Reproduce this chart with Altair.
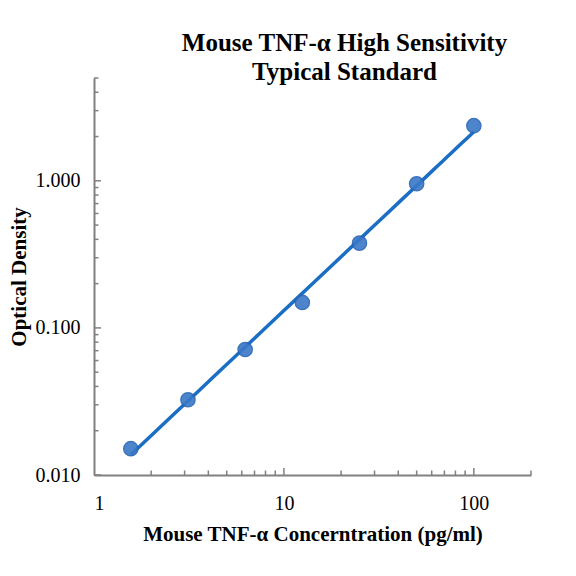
import altair as alt
import pandas as pd

# Standard curve readings (pg/ml vs OD)
conc = [1.5625, 3.125, 6.25, 12.5, 25, 50, 100]
od = [0.0151, 0.0325, 0.0713, 0.149, 0.377, 0.955, 2.37]

# tick positions for the log axes
x_major = [10, 100]
x_minor = [2, 3, 4, 5, 6, 7, 8, 9, 20, 30, 40, 50, 60, 70, 80, 90, 200]
y_major = [0.01, 0.1, 1]
y_minor = [0.02, 0.03, 0.04, 0.05, 0.06, 0.07, 0.08, 0.09,
           0.2, 0.3, 0.4, 0.5, 0.6, 0.7, 0.8, 0.9, 2, 3, 4, 5]

W, H = 437, 397
FONT = 'Liberation Serif'
GREY = '#808080'

df = pd.DataFrame({'conc': conc, 'od': od})

xscale = alt.Scale(type='log', domain=[1, 200], nice=False)
yscale = alt.Scale(type='log', domain=[0.01, 5], nice=False)

base = alt.Chart(df)

line = base.mark_line(color='#1a6ec4', strokeWidth=3.5).transform_regression(
    'conc', 'od', method='pow'
).encode(
    x=alt.X('conc:Q', scale=xscale,
            axis=alt.Axis(title='Mouse TNF-α Concerntration (pg/ml)',
                          values=[1, 10, 100], format='d', ticks=False,
                          grid=False, labelPadding=18, titlePadding=10)),
    y=alt.Y('od:Q', scale=yscale,
            axis=alt.Axis(title='Optical Density', values=y_major,
                          format='.3f', ticks=False, grid=False,
                          labelPadding=14, titlePadding=6)),
)

points = base.mark_point(
    filled=True, size=200, color='#3a78c8', opacity=0.9,
    stroke='#2a66b4', strokeWidth=1.5
).encode(x=alt.X('conc:Q', scale=xscale), y=alt.Y('od:Q', scale=yscale))

# inside tick marks
xt_major = alt.Chart(pd.DataFrame({'v': x_major})).mark_rule(
    color=GREY, strokeWidth=1.5
).encode(x=alt.X('v:Q', scale=xscale), y=alt.value(H), y2=alt.value(H - 7))
xt_minor = alt.Chart(pd.DataFrame({'v': x_minor})).mark_rule(
    color=GREY, strokeWidth=1.5
).encode(x=alt.X('v:Q', scale=xscale), y=alt.value(H), y2=alt.value(H - 4.5))
yt_major = alt.Chart(pd.DataFrame({'v': y_major})).mark_rule(
    color=GREY, strokeWidth=1.5
).encode(y=alt.Y('v:Q', scale=yscale), x=alt.value(0), x2=alt.value(7))
yt_minor = alt.Chart(pd.DataFrame({'v': y_minor})).mark_rule(
    color=GREY, strokeWidth=1.5
).encode(y=alt.Y('v:Q', scale=yscale), x=alt.value(0), x2=alt.value(4.5))

chart = alt.layer(
    xt_major, xt_minor, yt_major, yt_minor, line, points
).properties(
    width=W,
    height=H,
    autosize=alt.AutoSizeParams(type='none'),
    padding={'left': 86, 'top': 70, 'right': 37, 'bottom': 93},
    background='white',
    title=alt.TitleParams(
        ['Mouse TNF-α High Sensitivity', 'Typical Standard'],
        font=FONT, fontSize=25, fontWeight='bold', color='black',
        anchor='middle', dx=32, lineHeight=29, offset=-8,
    ),
).configure_axis(
    domainColor=GREY,
    domainWidth=2,
    labelFont=FONT,
    labelFontSize=20,
    labelColor='black',
    titleFont=FONT,
    titleFontSize=21,
    titleFontWeight='bold',
    titleColor='black',
).configure_view(
    strokeWidth=0,
)

chart.save('out.html', embed_options={'renderer': 'svg', 'actions': False})
